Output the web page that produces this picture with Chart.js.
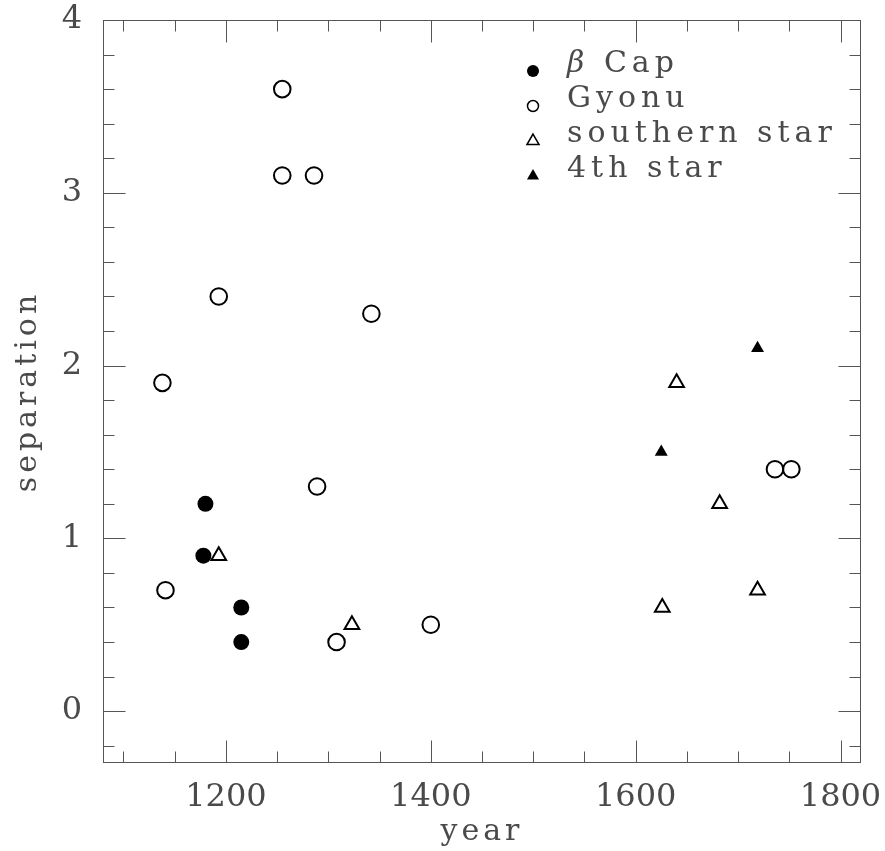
<!DOCTYPE html>
<html lang="en">
<head>
<meta charset="UTF-8">
<title>separation vs year</title>
<script src="https://cdn.jsdelivr.net/npm/chart.js@4"></script>
<style>
  html, body { margin: 0; background: #fff; overflow: hidden; }
  #wrap { width: 885px; height: 851px; position: relative; }
</style>
</head>
<body>
<div id="wrap"><canvas id="sepChart"></canvas></div>
<script>
// values (year, separation)
const betaCapYears = [1180, 1178, 1215, 1215];
const betaCapSep   = [1.2, 0.9, 0.6, 0.4];
const gyonuYears = [1255, 1255, 1286, 1193, 1342, 1138, 1289, 1141, 1308, 1400, 1736, 1752];
const gyonuSep   = [3.6, 3.1, 3.1, 2.4, 2.3, 1.9, 1.3, 0.7, 0.4, 0.5, 1.4, 1.4];
const southYears = [1193, 1323, 1640, 1682, 1719, 1626];
const southSep   = [0.9, 0.5, 1.9, 1.2, 0.7, 0.6];
const fourthYears = [1625, 1719];
const fourthSep   = [1.5, 2.1];

const xTicks = [1200, 1400, 1600, 1800];
const yTicks = [0, 1, 2, 3, 4];
const xMinorStep = 50;
const yMinorStep = 0.2;

const pts = (xs, ys) => xs.map((x, i) => ({x: x, y: ys[i]}));
const ink = '#000';
const none = 'rgba(0,0,0,0)';
const axisGrey = '#555';
const textGrey = '#4a4a4a';
const serif = "'DejaVu Serif', 'Liberation Serif', serif";

// fixed axis sizes, no extra room for overhanging labels
function fixSize(s, w, h) {
  if (w) s.width = w;
  if (h) s.height = h;
  s.paddingLeft = s.paddingRight = s.paddingTop = s.paddingBottom = 0;
}

// box with inward ticks on all four sides (major long, minor short)
const frame = {
  id: 'frame',
  beforeDraw(chart) {
    chart.ctx.letterSpacing = '4px'; // axis titles
  },
  afterDatasetsDraw(chart) {
    const {ctx, chartArea: a, scales: {x, y}} = chart;
    ctx.save();
    ctx.strokeStyle = axisGrey;
    ctx.lineWidth = 1;
    const L = a.left + 0.5, R = a.right - 0.5, T = a.top + 0.5, B = a.bottom - 0.5;
    ctx.strokeRect(L, T, R - L, B - T);
    ctx.beginPath();
    for (let k = Math.ceil(x.min / xMinorStep - 1e-9); k * xMinorStep <= x.max + 1e-9; k++) {
      const v = k * xMinorStep;
      const len = xTicks.includes(v) ? 22 : 11;
      const px = Math.round(x.getPixelForValue(v)) + 0.5;
      ctx.moveTo(px, B); ctx.lineTo(px, B - len);
      ctx.moveTo(px, T); ctx.lineTo(px, T + len);
    }
    for (let k = Math.ceil(y.min / yMinorStep - 1e-9); k * yMinorStep <= y.max + 1e-9; k++) {
      const v = Math.round(k * yMinorStep * 10) / 10;
      const len = yTicks.includes(v) ? 22 : 11;
      const py = Math.round(y.getPixelForValue(v)) + 0.5;
      ctx.moveTo(L, py); ctx.lineTo(L + len, py);
      ctx.moveTo(R, py); ctx.lineTo(R - len, py);
    }
    ctx.stroke();
    ctx.restore();
    ctx.letterSpacing = '0px'; // tick labels are drawn after this (ticks.z = 1)
  }
};

const legendRadius = [6, 5.5, 7, 7];

const legendBox = {
  id: 'legendBox',
  afterDraw(chart) {
    const {ctx, chartArea: a} = chart;
    const mx = a.left + 430, tx = a.left + 464, y0 = a.top + 52, dy = 35;
    ctx.save();
    ctx.letterSpacing = '5px';
    ctx.textBaseline = 'alphabetic';
    ctx.textAlign = 'left';
    chart.data.datasets.forEach((ds, i) => {
      const y = y0 + i * dy;
      ctx.fillStyle = ds.backgroundColor;
      ctx.strokeStyle = ds.borderColor;
      ctx.lineWidth = 1.5;
      Chart.helpers.drawPoint(ctx, {
        pointStyle: ds.pointStyle, rotation: 0, radius: legendRadius[i],
        borderWidth: ds.borderWidth ? 1.5 : 0
      }, mx, y - 1);
      ctx.fillStyle = textGrey;
      let label = ds.label, x0 = tx;
      if (label.startsWith('β')) {
        ctx.font = 'italic 30px ' + serif;
        ctx.fillText('β', x0, y);
        x0 += ctx.measureText('β').width;
        label = label.slice(1);
      }
      ctx.font = '30px ' + serif;
      ctx.fillText(label, x0, y);
    });
    ctx.restore();
    ctx.letterSpacing = '0px';
  }
};

new Chart(document.getElementById('sepChart'), {
  type: 'scatter',
  data: {
    datasets: [
      { label: 'β Cap', data: pts(betaCapYears, betaCapSep), pointStyle: 'circle',
        pointRadius: 8, backgroundColor: ink, borderColor: ink, borderWidth: 0 },
      { label: 'Gyonu', data: pts(gyonuYears, gyonuSep), pointStyle: 'circle',
        pointRadius: 8.3, backgroundColor: none, borderColor: ink, borderWidth: 2 },
      { label: 'southern star', data: pts(southYears, southSep), pointStyle: 'triangle',
        pointRadius: 8.5, backgroundColor: none, borderColor: ink, borderWidth: 2 },
      { label: '4th star', data: pts(fourthYears, fourthSep), pointStyle: 'triangle',
        pointRadius: 7.5, backgroundColor: ink, borderColor: ink, borderWidth: 0 }
    ]
  },
  options: {
    responsive: true,
    maintainAspectRatio: false,
    animation: false,
    events: [],
    layout: { padding: { top: 20, right: 24, left: 0, bottom: 0 } },
    plugins: { legend: { display: false }, tooltip: { enabled: false } },
    scales: {
      x: {
        type: 'linear', min: 1080, max: 1820,
        afterBuildTicks: s => { s.ticks = xTicks.map(v => ({value: v})); },
        afterFit: s => fixSize(s, 0, 88),
        grid: { display: false, drawTicks: false },
        border: { display: false },
        ticks: { z: 1, padding: 15, color: textGrey, maxRotation: 0, autoSkip: false,
                 font: { family: serif, size: 32 }, callback: v => String(v) },
        title: { display: true, text: 'year', color: textGrey,
                 font: { family: serif, size: 30 }, padding: { top: 0, bottom: 1 } }
      },
      y: {
        type: 'linear', min: -0.3, max: 4,
        afterBuildTicks: s => { s.ticks = yTicks.map(v => ({value: v})); },
        afterFit: s => fixSize(s, 103, 0),
        grid: { display: false, drawTicks: false },
        border: { display: false },
        ticks: { z: 1, padding: 21, color: textGrey, autoSkip: false,
                 font: { family: serif, size: 32 }, callback: v => String(v) },
        title: { display: true, text: 'separation', color: textGrey,
                 font: { family: serif, size: 30 }, padding: { top: 10, bottom: 0 } }
      }
    }
  },
  plugins: [frame, legendBox]
});
</script>
</body>
</html>
